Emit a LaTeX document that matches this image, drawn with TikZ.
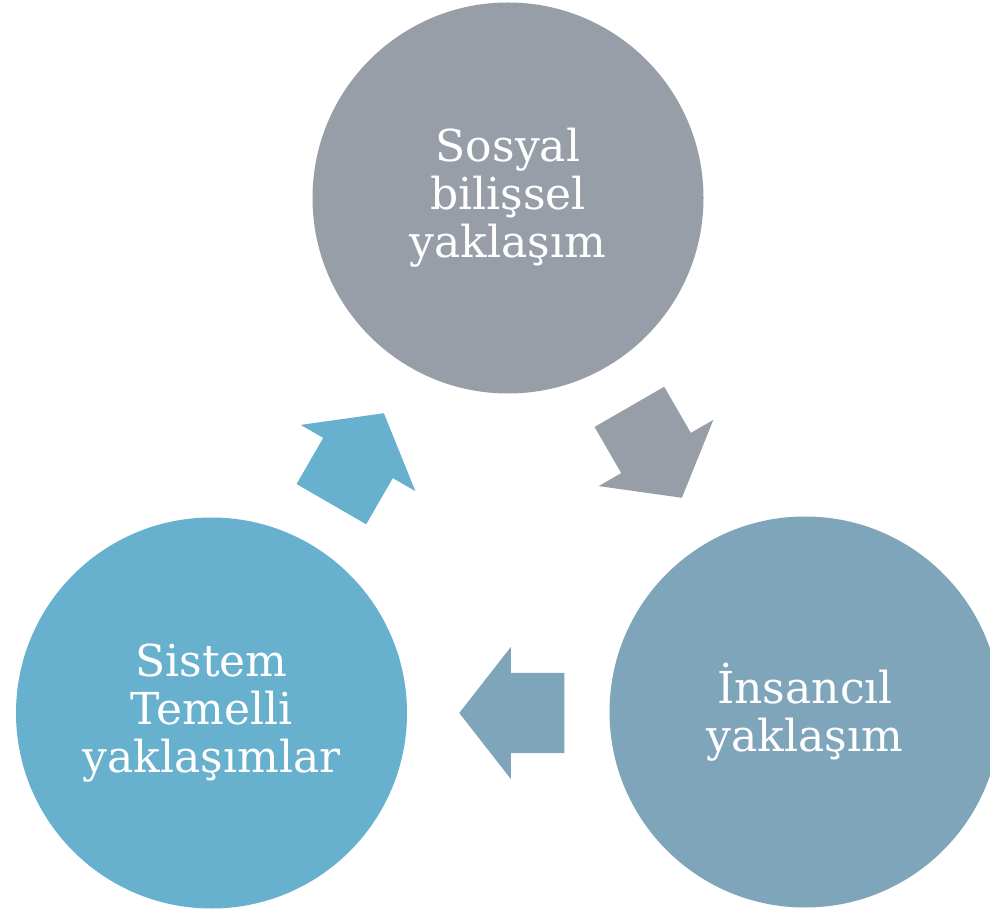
\documentclass[tikz,border=0pt]{standalone}
\usepackage{fontspec}
\setmainfont{DejaVu Serif}
\usetikzlibrary{shapes.arrows}
\definecolor{sosyalgray}{HTML}{979EA8}
\definecolor{insanblue}{HTML}{7FA5BB}
\definecolor{sistemblue}{HTML}{67B0CE}
\begin{document}
\begin{tikzpicture}[x=1pt, y=1pt,
  daire/.style={circle, minimum size=391pt, inner sep=0pt, text=white, align=center, font=\fontsize{44}{48}\selectfont},
  okbox/.style={single arrow, anchor=tip, minimum height=105pt, text height=40pt, text depth=40pt, text width=0pt, single arrow head extend=26pt, single arrow tip angle=104, single arrow head indent=0pt, inner sep=0pt}]
\clip (0,0) rectangle (990,908);
\node [daire, fill=sosyalgray] (sosyal) at (508,710) {Sosyal\\bilişsel\\yaklaşım};
\node [daire, fill=insanblue] (insan) at (805,196) {İnsancıl\\yaklaşım};
\node [daire, fill=sistemblue] (sistem) at (211.5,195) {Sistem\\Temelli\\yaklaşımlar};

\node [okbox, fill=sosyalgray, rotate=-60] (ok1) at (682,410) {};
\node [okbox, fill=insanblue, rotate=180] (ok2) at (459,195) {};
\node [okbox, fill=sistemblue, rotate=60] (ok3) at (384,495) {};
\end{tikzpicture}
\end{document}
